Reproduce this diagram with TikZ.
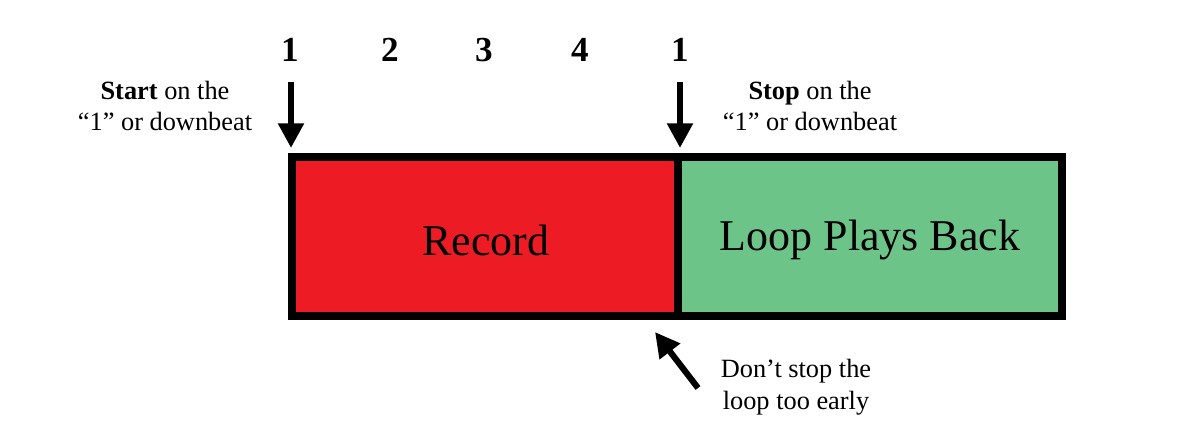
\documentclass[tikz,border=0pt]{standalone}
\usepackage{fontspec}
\setmainfont{Liberation Serif}
\usetikzlibrary{arrows.meta}
\definecolor{recred}{HTML}{ED1C24}
\definecolor{loopgreen}{HTML}{6DC489}
\tikzset{
  beat/.style={font=\fontsize{20}{24}\selectfont\bfseries},
  note/.style={font=\fontsize{15}{18}\selectfont, align=center},
  big/.style={font=\fontsize{25}{30}\selectfont},
  arr/.style={line width=3.5pt,-{Triangle[length=14pt,width=14pt]}}
}
\begin{document}
\begin{tikzpicture}[x=0.02cm,y=-0.02cm]
\useasboundingbox (0,0) rectangle (1201,433);
\fill[recred] (292,157) rectangle (678,316);
\fill[loopgreen] (678,157) rectangle (1062,316);
\draw[line width=5pt] (292,157) rectangle (1062,316);
\draw[line width=5pt] (678,157) -- (678,316);
\node[big] (rec) at (486,240) {Record};
\node[big] (lpb) at (870,240) {Loop Plays Back};
\node[beat] (b1) at (290,50) {1};
\node[beat] (b2) at (390,50) {2};
\node[beat] (b3) at (484,50) {3};
\node[beat] (b4) at (580,50) {4};
\node[beat] (b5) at (680,50) {1};
\coordinate (s1) at (291,82); \coordinate (e1) at (291,148);
\coordinate (s2) at (680,82); \coordinate (e2) at (680,148);
\draw[arr] (s1) -- (e1);
\draw[arr] (s2) -- (e2);
\node[note] (start) at (165,106) {\textbf{Start} on the\\“1” or downbeat};
\node[note] (stop) at (810,106) {\textbf{Stop} on the\\“1” or downbeat};
\node[note] (early) at (796,387) {Don’t stop the\\loop too early};
\coordinate (s3) at (698,388); \coordinate (e3) at (655,332);
\draw[arr] (s3) -- (e3);
\end{tikzpicture}
\end{document}
